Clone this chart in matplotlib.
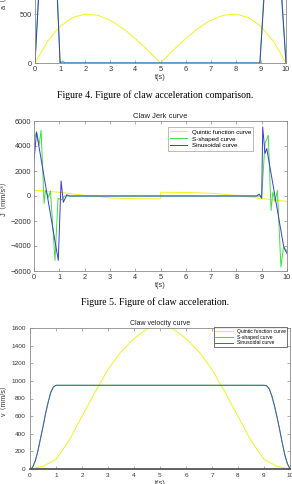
import matplotlib
matplotlib.use('Agg')
import matplotlib.pyplot as plt
import numpy as np

plt.rcParams['font.family'] = ['Liberation Sans', 'Noto Sans CJK SC']

# ---- Figure 4: claw acceleration comparison (only lower part visible) ----
acc_t_quintic = [0, 0.5, 1, 1.5, 2, 2.5, 3, 3.5, 4, 4.5, 5,
                 5.5, 6, 6.5, 7, 7.5, 8, 8.5, 9, 9.5, 10]
acc_quintic = [0, 222, 374, 464, 499, 487, 436, 354, 249, 129, 0,
               129, 249, 354, 436, 487, 499, 464, 374, 222, 0]
acc_t_s = [0, 0.14, 0.5, 0.89, 1.0, 1.1, 1.2, 8.9, 8.96, 9.12, 9.5, 9.83, 10]
acc_s = [0, 700, 1400, 700, 0, 20, 0, 0, 0, 700, 1400, 700, 0]
acc_t_sin = [0, 0.14, 0.5, 0.89, 1.0, 8.96, 9.12, 9.5, 9.83, 10]
acc_sin = [0, 650, 1400, 650, 0, 0, 650, 1400, 650, 0]

# ---- Figure 5: claw jerk ----
jerk_t_quintic = [0, 1, 2, 3, 4, 4.99, 5.01, 6, 7, 8, 9, 10]
jerk_quintic = [460, 300, 50, -150, -220, -230, 300, 280, 220, 50, -200, -430]
jerk_t_s = [0, 0.1, 0.2, 0.28, 0.4, 0.45, 0.57, 0.65, 0.83, 0.95, 1.1, 1.2,
            8.9, 9.0, 9.13, 9.26, 9.37, 9.44, 9.53, 9.62, 9.76, 9.86, 10]
jerk_s = [4500, 5150, 4050, 5260, -600, 450, -100, 400, -5150, -200, -300, 0,
          0, 0, 4200, 4860, -1150, 320, -450, 450, -5680, -4080, -4400]
jerk_t_sin = [0, 0.1, 0.96, 1.07, 1.16, 1.3, 1.4, 8.8, 8.9, 9.0, 9.04, 9.13,
              9.2, 9.86, 9.92, 10]
jerk_sin = [2800, 5100, -5150, 1200, -500, 100, 0, 0, 150, -190, 5520, 3400,
            3800, -3950, -4300, -4600]

# ---- Figure 6: claw velocity ----
vel_t_quintic = [0, 0.5, 1, 1.5, 2, 2.5, 3, 3.5, 4, 4.5, 5,
                 5.5, 6, 6.5, 7, 7.5, 8, 8.5, 9, 9.5, 10]
vel_quintic = [0, 30, 110, 320, 600, 870, 1130, 1330, 1480, 1590, 1630,
               1590, 1480, 1330, 1130, 870, 600, 320, 110, 30, 0]
vel_t_sin = [0, 0.05, 0.1, 0.2, 0.3, 0.4, 0.5, 0.6, 0.7, 0.8, 0.9, 1.0,
             9.0, 9.1, 9.2, 9.3, 9.4, 9.5, 9.6, 9.7, 9.8, 9.9, 10]
vel_sin = [0, 5, 20, 90, 200, 340, 480, 630, 760, 870, 930, 950,
           950, 945, 910, 830, 720, 590, 450, 300, 160, 60, 0]

legend_labels = ['Quintic function curve', 'S-shaped curve', 'Sinusoidal curve']
c_y, c_g, c_b = '#f2f21a', '#3fe03f', '#3c3cd2'

W, H = 292, 484
fig = plt.figure(figsize=(W / 100, H / 100), dpi=100)


def px_axes(left, right, top, bottom):
    return fig.add_axes([left / W, 1 - bottom / H, (right - left) / W, (bottom - top) / H])


def style(ax):
    for s in ax.spines.values():
        s.set_color('#8a8a8a')
        s.set_linewidth(0.6)
    ax.tick_params(direction='in', length=2, width=0.5, colors='#8a8a8a',
                   labelcolor='#333333', labelsize=5.3, pad=2,
                   top=True, right=True)


# top panel (cut off at the top of the page)
ax1 = px_axes(35, 286, -84, 63)
ax1.plot(acc_t_quintic, acc_quintic, color=c_y, lw=0.7)
ax1.plot(acc_t_s, acc_s, color=c_g, lw=0.7)
ax1.plot(acc_t_sin, acc_sin, color=c_b, lw=0.7)
ax1.set_xlim(0, 10)
ax1.set_ylim(0, 1500)
ax1.set_xticks(range(11))
ax1.set_yticks([0, 500])
ax1.set_xlabel('t(s)', fontsize=5.3, labelpad=1, color='#333333')
ax1.set_ylabel('a（mm/s²）', fontsize=5.3, color='#333333')
ax1.yaxis.set_label_coords(-0.108, 0.5)
style(ax1)

fig.text(155 / W, 1 - 95 / H, 'Figure 4. Figure of claw acceleration comparison.',
         family='Liberation Serif', fontsize=7, ha='center', va='center')

# middle panel: jerk
ax2 = px_axes(34, 287, 121, 271)
ax2.plot(jerk_t_quintic, jerk_quintic, color=c_y, lw=0.7, label=legend_labels[0])
ax2.plot(jerk_t_s, jerk_s, color=c_g, lw=0.7, label=legend_labels[1])
ax2.plot(jerk_t_sin, jerk_sin, color=c_b, lw=0.7, label=legend_labels[2])
ax2.set_xlim(0, 10)
ax2.set_ylim(-6000, 6000)
ax2.set_xticks(range(11))
ax2.set_yticks(range(-6000, 6001, 2000))
ax2.set_title('Claw Jerk curve', fontsize=5.5, pad=2, color='#222222')
ax2.set_xlabel('t(s)', fontsize=5.3, labelpad=1, color='#333333')
ax2.set_ylabel('J（mm/s³）', fontsize=5.3, color='#333333')
ax2.yaxis.set_label_coords(-0.103, 0.5)
style(ax2)
leg2 = ax2.legend(loc='upper right', bbox_to_anchor=(0.866, 0.96), borderaxespad=0,
                  fontsize=4.5, frameon=True, fancybox=False, handlelength=2.6,
                  handletextpad=0.8, labelspacing=0.25, borderpad=0.35)
leg2.get_frame().set_edgecolor('#888888')
leg2.get_frame().set_linewidth(0.5)

fig.text(155 / W, 1 - 302 / H, 'Figure 5. Figure of claw acceleration.',
         family='Liberation Serif', fontsize=7, ha='center', va='center')

# bottom panel: velocity (cut off at the bottom of the page)
ax3 = px_axes(30, 290, 328, 469)
ax3.plot(vel_t_quintic, vel_quintic, color=c_y, lw=0.7, label=legend_labels[0])
ax3.plot(vel_t_sin, vel_sin, color=c_g, lw=0.7, label=legend_labels[1])
ax3.plot(vel_t_sin, vel_sin, color='#5050c8', lw=0.7, label=legend_labels[2])
ax3.set_xlim(0, 10)
ax3.set_ylim(0, 1600)
ax3.set_xticks(range(11))
ax3.set_yticks(range(0, 1601, 200))
ax3.set_title('Claw velocity curve', fontsize=5, pad=2, color='#222222')
ax3.set_xlabel('t(s)', fontsize=5.3, labelpad=1.5, color='#333333')
ax3.set_ylabel('v（mm/s）', fontsize=5, color='#333333')
ax3.yaxis.set_label_coords(-0.085, 0.5)
style(ax3)
ax3.tick_params(labelsize=4.6, pad=3)
ax3.spines['bottom'].set_color('#555555')
ax3.spines['bottom'].set_linewidth(1.3)
leg3 = ax3.legend(loc='upper right', bbox_to_anchor=(0.99, 1.005), borderaxespad=0,
                  fontsize=3.6, frameon=True, fancybox=False, handlelength=3.5,
                  handletextpad=0.8, labelspacing=0.15, borderpad=0.3)
leg3.get_frame().set_edgecolor('#333333')
leg3.get_frame().set_linewidth(0.6)

fig.savefig('out.png', dpi=100)
